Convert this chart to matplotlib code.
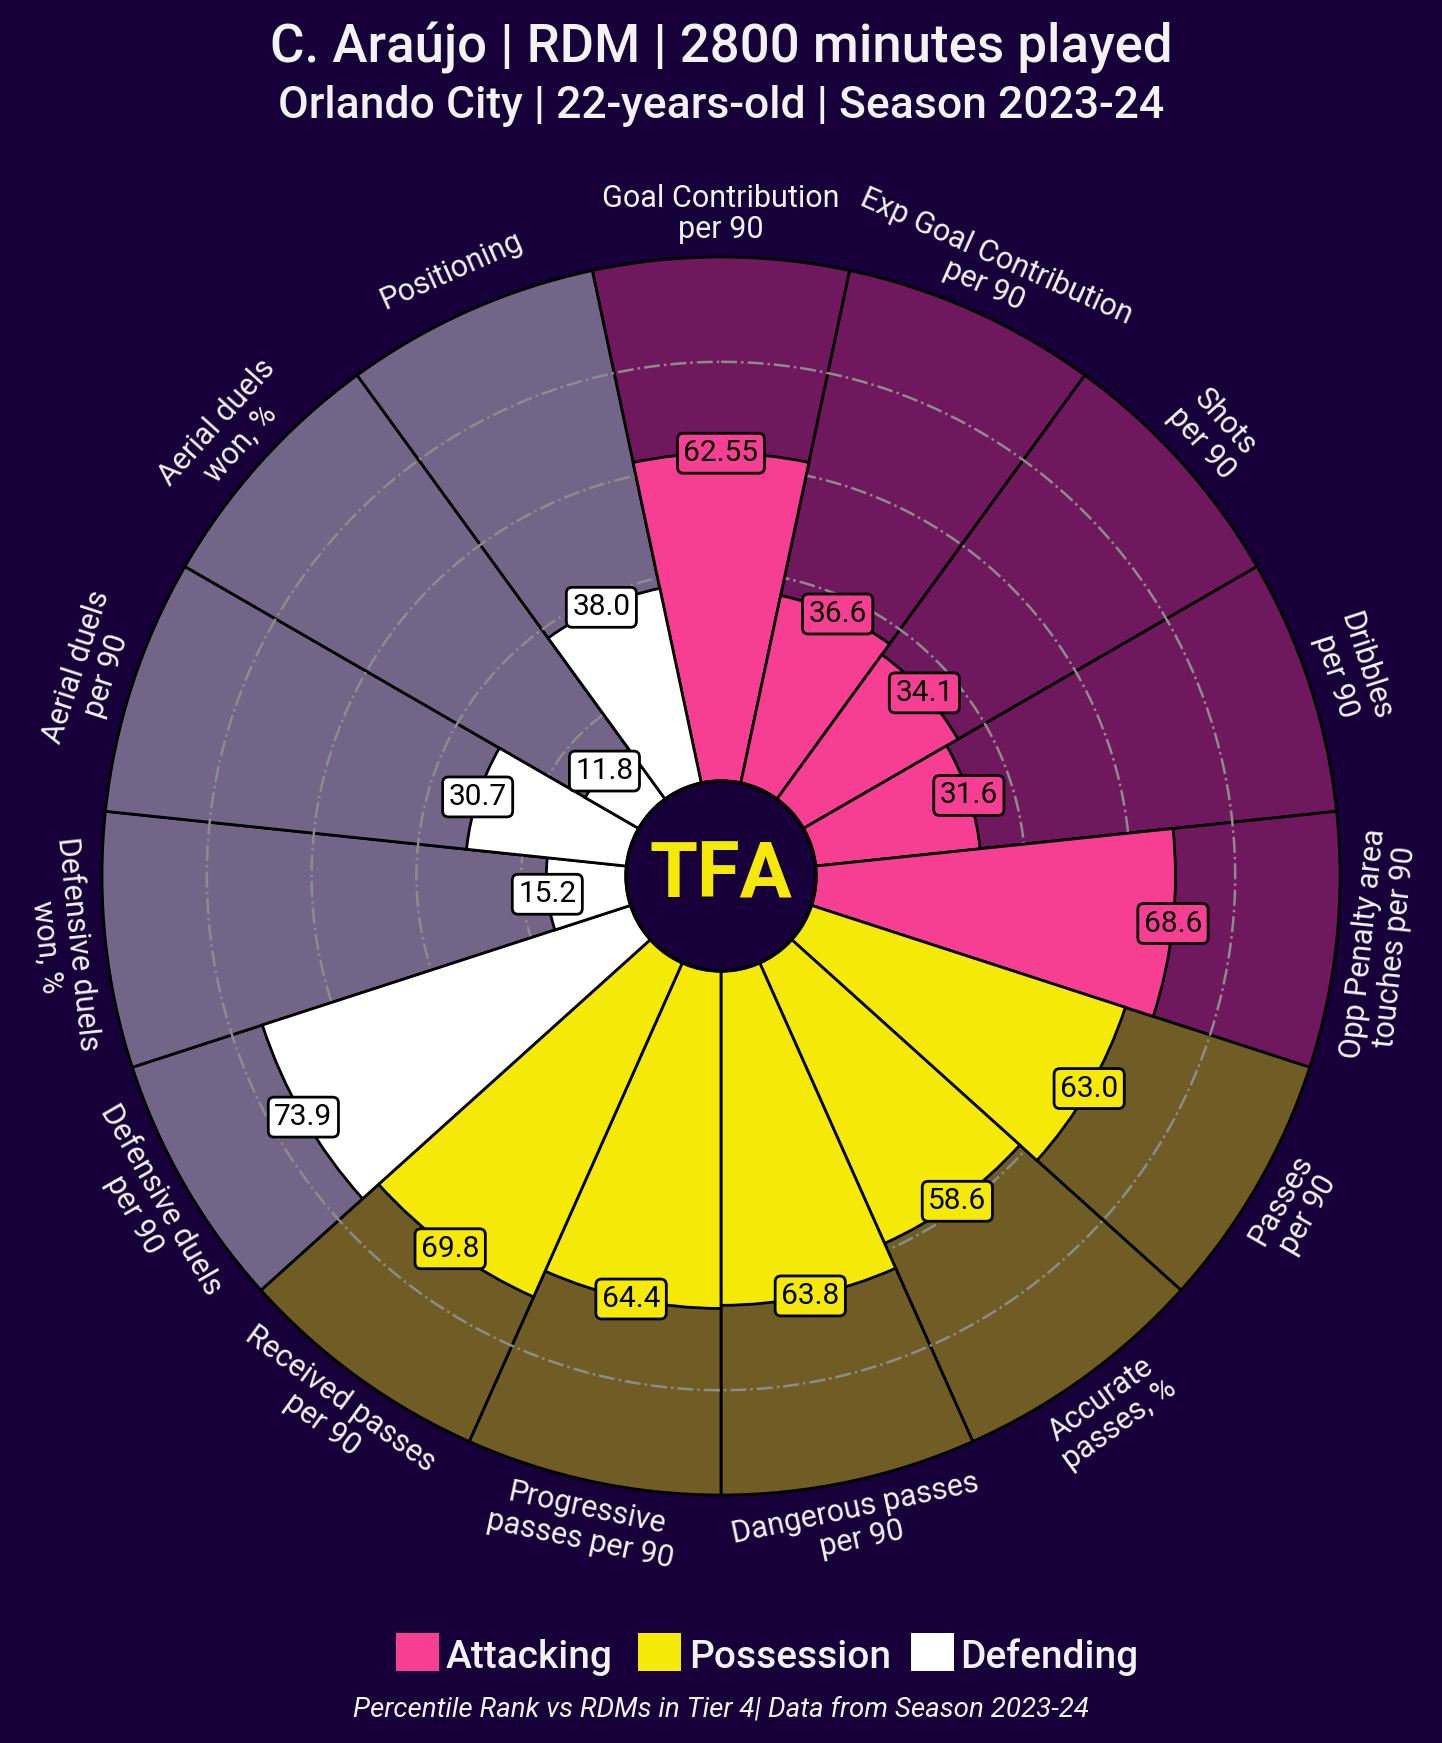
import numpy as np
import matplotlib.pyplot as plt
from matplotlib.colors import to_rgba
from matplotlib.patches import Circle, Rectangle

plt.rcParams['font.family'] = ['Roboto', 'DejaVu Sans']

# data
params = ["Goal Contribution\nper 90", "Exp Goal Contribution\nper 90", "Shots\nper 90",
          "Dribbles\nper 90", "Opp Penalty area\ntouches per 90", "Passes\nper 90",
          "Accurate\npasses, %", "Dangerous passes\nper 90", "Progressive\npasses per 90",
          "Received passes\nper 90", "Defensive duels\nper 90", "Defensive duels\nwon, %",
          "Aerial duels\nper 90", "Aerial duels\nwon, %", "Positioning"]
values = [62.55, 36.6, 34.1, 31.6, 68.6, 63.0, 58.6, 63.8, 64.4, 69.8, 73.9, 15.2, 30.7, 11.8, 38.0]
groups = ["Attacking"] * 5 + ["Possession"] * 5 + ["Defending"] * 5
group_names = ["Attacking", "Possession", "Defending"]
grid_levels = [20, 40, 60, 80]

title = "C. Araújo | RDM | 2800 minutes played"
subtitle = "Orlando City | 22-years-old | Season 2023-24"
footer = "Percentile Rank vs RDMs in Tier 4| Data from Season 2023-24"

# style
BG = "#17003A"
TXT = "#F2F2F2"
group_colors = {"Attacking": "#F63E92", "Possession": "#F5E907", "Defending": "#FFFFFF"}
INNER = 18.13  # centre hole, in percentile units

fig = plt.figure(figsize=(14.42, 17.43), dpi=100, facecolor=BG)
ax = fig.add_axes([102 / 1442, 248 / 1743, 1238 / 1442, 1238 / 1743], polar=True)
ax.set_facecolor(BG)
ax.set_theta_zero_location('N')
ax.set_theta_direction(-1)
ax.set_ylim(0, INNER + 100)

n = len(params)
width = 2 * np.pi / n
theta = np.arange(n) * width
colors = [group_colors[g] for g in groups]
bg_colors = [to_rgba(c, 0.4) for c in colors]

# background slices
ax.bar(theta, [100] * n, width=width, bottom=INNER, color=bg_colors,
       edgecolor='black', linewidth=2, zorder=1, clip_on=False)

# gridlines
tt = np.linspace(0, 2 * np.pi, 500)
for lvl in grid_levels:
    ax.plot(tt, np.full_like(tt, INNER + lvl), color='#8C8C8C', ls='-.', lw=1.8, zorder=1.5)

# value slices
ax.bar(theta, values, width=width, bottom=INNER, color=colors,
       edgecolor='black', linewidth=2, zorder=2, clip_on=False)

# value labels
for t, v, c in zip(theta, values, colors):
    ax.text(t, INNER + v, str(v), ha='center', va='center', fontsize=21.5, color='black',
            zorder=4, bbox=dict(boxstyle='round,pad=0.2', fc=c, ec='black', lw=2))

# parameter labels
for i, (t, p) in enumerate(zip(theta, params)):
    ang = 90 - np.degrees(t)
    rot = (ang - 90 + 180) % 360 - 180
    if rot > 90:
        rot -= 180
    elif rot < -90:
        rot += 180
    ax.text(t, 126.4, p, ha='center', va='center', rotation=rot, rotation_mode='anchor',
            fontsize=22, color=TXT, multialignment='center', linespacing=1.1)

ax.set_xticks([])
ax.set_yticks([])
ax.grid(False)
ax.spines['polar'].set_visible(False)

# centre circle + logo
ax.add_patch(Circle((0.5, 0.5), INNER / (2 * (INNER + 100)), transform=ax.transAxes,
                    fc=BG, ec='black', lw=2.5, zorder=5))
ax.text(0.5, 0.5, "TFA", transform=ax.transAxes, ha='center', va='center',
        fontsize=56, fontweight='bold', color="#F5E907", zorder=6)

# titles
fig.text(0.5, 1 - 63 / 1743, title, ha='center', va='baseline', fontsize=38,
         fontweight='medium', color=TXT)
fig.text(0.5, 1 - 118 / 1743, subtitle, ha='center', va='baseline', fontsize=32,
         fontweight='medium', color=TXT)

# legend
sq_x = [396, 638, 911]
txt_x = [446, 689, 960]
for g, sx, tx in zip(group_names, sq_x, txt_x):
    fig.patches.append(Rectangle((sx / 1442, 1 - 1671 / 1743), 43 / 1442, 38 / 1743,
                                 transform=fig.transFigure, fc=group_colors[g], ec='none'))
    fig.text(tx / 1442, 1 - 1668 / 1743, g, ha='left', va='baseline', fontsize=28,
             fontweight='medium', color=TXT)

fig.text(0.5, 1 - 1716 / 1743, footer, ha='center', va='baseline', fontsize=20,
         style='italic', color=TXT)

fig.savefig('out.png', dpi=100, facecolor=BG)
